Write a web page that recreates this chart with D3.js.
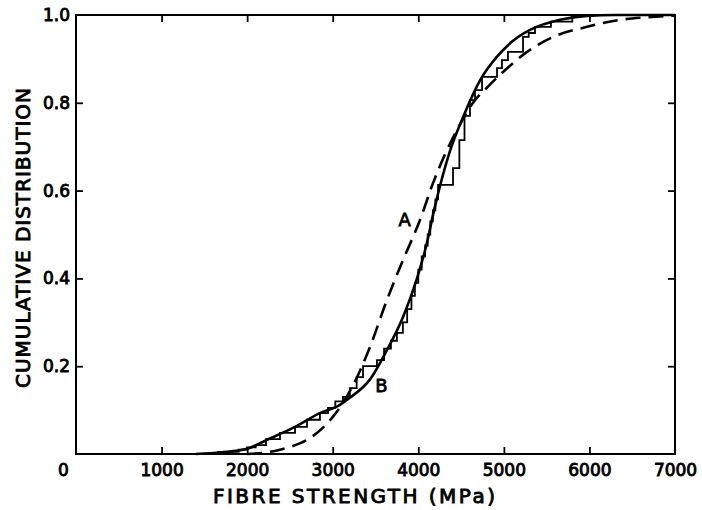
<!DOCTYPE html>
<html>
<head>
<meta charset="utf-8">
<script src="https://cdn.jsdelivr.net/npm/d3@7"></script>
<style>
  html, body { margin: 0; padding: 0; background: #fff; }
  svg { display: block; }
  text { font-family: "DejaVu Sans", sans-serif; fill: #000; }
</style>
</head>
<body>
<svg id="chart" width="702" height="510"></svg>
<script>
// ---- data ----
const xTicks = [0, 1000, 2000, 3000, 4000, 5000, 6000, 7000];
const yTicks = [0.2, 0.4, 0.6, 0.8, 1.0];

// Curve B (solid, fitted)
const curveBStrength = [1400, 1700, 2000, 2230, 2540, 2850, 3085, 3200, 3436, 3634, 3822, 3985, 4100, 4190, 4370, 4525, 4725, 4920, 5100, 5306, 5656, 5972, 6300, 7000];
const curveBCum      = [0, 0.004, 0.012, 0.032, 0.06, 0.093, 0.112, 0.128, 0.17, 0.237, 0.312, 0.40, 0.48, 0.56, 0.69, 0.768, 0.852, 0.905, 0.94, 0.966, 0.989, 0.998, 1.0, 1.0];

// Curve A (dashed, fitted)
const curveAStrength = [2000, 2200, 2349, 2500, 2700, 2886, 3003, 3220, 3436, 3634, 3822, 4020, 4172, 4452, 4640, 4820, 4990, 5271, 5575, 5972, 6357, 6673, 7000];
const curveACum      = [0, 0.003, 0.008, 0.016, 0.032, 0.06, 0.085, 0.15, 0.244, 0.351, 0.442, 0.533, 0.617, 0.738, 0.80, 0.838, 0.87, 0.916, 0.95, 0.973, 0.989, 0.995, 0.999];

// Empirical step distribution
const stepStrength = [1650, 1900, 2000, 2100, 2220, 2384, 2560, 2700, 2851, 2945, 3030, 3120, 3200, 3280, 3354, 3517, 3600, 3680, 3750, 3820, 3870, 3920, 3960, 4000, 4040, 4080, 4110, 4140, 4170, 4200, 4231, 4406, 4480, 4540, 4604, 4663, 4745, 4920, 4978, 5048, 5224, 5290, 5364, 5550, 5800, 6000];
const stepCum      = [0.005, 0.01, 0.015, 0.02, 0.034, 0.048, 0.062, 0.078, 0.093, 0.105, 0.12, 0.13, 0.15, 0.175, 0.2, 0.214, 0.24, 0.258, 0.276, 0.30, 0.33, 0.36, 0.39, 0.42, 0.45, 0.475, 0.50, 0.53, 0.555, 0.58, 0.613, 0.651, 0.715, 0.77, 0.806, 0.829, 0.859, 0.879, 0.897, 0.916, 0.95, 0.959, 0.973, 0.985, 1.0, 1.0];

const curveLabels = [
  { text: "A", x: 3840, y: 0.535 },
  { text: "B", x: 3570, y: 0.155 }
];

// ---- drawing ----
const svg = d3.select("#chart");
const x = d3.scaleLinear().domain([0, 7000]).range([76, 675]);
const y = d3.scaleLinear().domain([0, 1]).range([454, 15]);

// frame
svg.append("rect")
  .attr("x", x(0)).attr("y", y(1))
  .attr("width", x(7000) - x(0)).attr("height", y(0) - y(1))
  .attr("fill", "none").attr("stroke", "#000").attr("stroke-width", 2);

// bottom axis
const gx = svg.append("g").attr("transform", `translate(0,${y(0)})`)
  .call(d3.axisBottom(x).tickValues(xTicks).tickFormat(d3.format("d"))
    .tickSizeInner(-7).tickSizeOuter(0).tickPadding(10));
gx.select(".domain").remove();
gx.selectAll(".tick line").attr("stroke", "#000").attr("stroke-width", 1.8)
  .filter(d => d === 0 || d === 7000).remove();
gx.selectAll(".tick text").attr("font-size", 17).attr("font-family", "DejaVu Sans")
  .attr("stroke", "#000").attr("stroke-width", 0.9);
gx.selectAll(".tick").filter(d => d === 0).select("text").attr("x", -13);

// top axis (ticks only)
const gt = svg.append("g").attr("transform", `translate(0,${y(1)})`)
  .call(d3.axisTop(x).tickValues(xTicks.slice(1, -1)).tickFormat("")
    .tickSizeInner(-7).tickSizeOuter(0));
gt.select(".domain").remove();
gt.selectAll(".tick line").attr("stroke", "#000").attr("stroke-width", 1.8);

// left axis
const gy = svg.append("g").attr("transform", `translate(${x(0)},0)`)
  .call(d3.axisLeft(y).tickValues(yTicks).tickFormat(d3.format(".1f"))
    .tickSizeInner(-7).tickSizeOuter(0).tickPadding(6));
gy.select(".domain").remove();
gy.selectAll(".tick line").attr("stroke", "#000").attr("stroke-width", 1.8)
  .filter(d => d === 1).remove();
gy.selectAll(".tick text").attr("font-size", 17).attr("font-family", "DejaVu Sans")
  .attr("stroke", "#000").attr("stroke-width", 0.9);

// right axis (ticks only)
const gr = svg.append("g").attr("transform", `translate(${x(7000)},0)`)
  .call(d3.axisRight(y).tickValues(yTicks.slice(0, -1)).tickFormat("")
    .tickSizeInner(-7).tickSizeOuter(0));
gr.select(".domain").remove();
gr.selectAll(".tick line").attr("stroke", "#000").attr("stroke-width", 1.8);

// axis titles
svg.append("text")
  .attr("x", 354).attr("y", 503)
  .attr("text-anchor", "middle")
  .attr("font-size", 20)
  .attr("stroke", "#000").attr("stroke-width", 0.9)
  .attr("textLength", 282).attr("lengthAdjust", "spacing")
  .text("FIBRE STRENGTH (MPa)");

svg.append("text")
  .attr("transform", "translate(30,238) rotate(-90)")
  .attr("text-anchor", "middle")
  .attr("font-size", 20)
  .attr("stroke", "#000").attr("stroke-width", 0.9)
  .attr("textLength", 300).attr("lengthAdjust", "spacing")
  .text("CUMULATIVE DISTRIBUTION");

// curves
const line = d3.line().x(d => x(d[0])).y(d => y(d[1]));

svg.append("path")
  .datum(d3.zip(stepStrength, stepCum))
  .attr("d", line.curve(d3.curveStepAfter))
  .attr("fill", "none").attr("stroke", "#000").attr("stroke-width", 1.8);

svg.append("path")
  .datum(d3.zip(curveAStrength, curveACum))
  .attr("d", d3.line().x(d => x(d[0])).y(d => y(d[1])).curve(d3.curveMonotoneX))
  .attr("fill", "none").attr("stroke", "#000").attr("stroke-width", 2.6)
  .attr("stroke-dasharray", "15,8");

svg.append("path")
  .datum(d3.zip(curveBStrength, curveBCum))
  .attr("d", d3.line().x(d => x(d[0])).y(d => y(d[1])).curve(d3.curveMonotoneX))
  .attr("fill", "none").attr("stroke", "#000").attr("stroke-width", 2.6);

// curve labels
svg.selectAll("text.lbl").data(curveLabels).enter().append("text")
  .attr("class", "lbl")
  .attr("x", d => x(d.x)).attr("y", d => y(d.y))
  .attr("text-anchor", "middle").attr("dominant-baseline", "central")
  .attr("font-size", 18)
  .attr("stroke", "#000").attr("stroke-width", 0.8)
  .text(d => d.text);
</script>
</body>
</html>
